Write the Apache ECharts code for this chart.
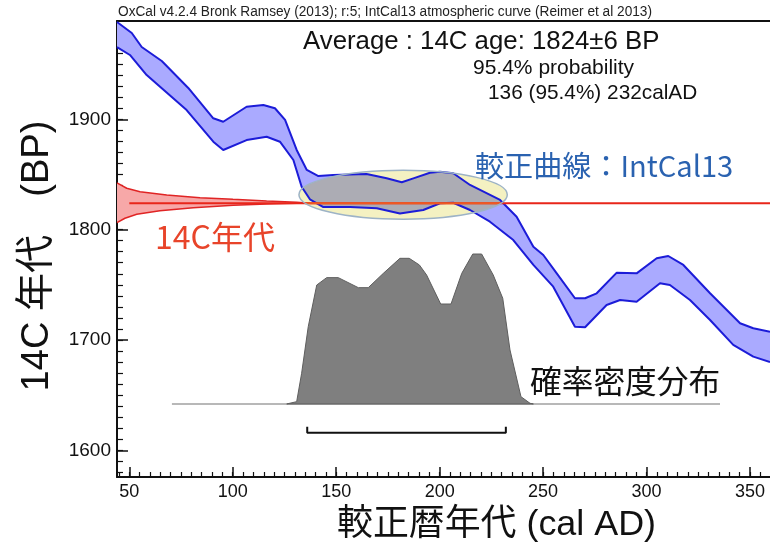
<!DOCTYPE html>
<html><head><meta charset="utf-8">
<script src="https://cdn.jsdelivr.net/npm/echarts@6/dist/echarts.min.js"></script>
<style>html,body{margin:0;padding:0;background:#fff}#c{width:770px;height:549px}</style>
</head><body><div id="c"></div>
<script>
// ---- axes ----
const xRange = [44.06, 359.67];
const yRange = [1575.8, 1989.1];
const xMajorTicks = [50, 100, 150, 200, 250, 300, 350];
const yMajorTicks = [1600, 1700, 1800, 1900];

// ---- IntCal13 calibration band (cal AD, BP) ----
const calUpper = [[44.06,1988.2],[51.2,1978.2],[56.0,1965.5],[65.7,1952.8],[78.5,1928.4],[90.6,1900.9],[95.4,1897.8],[106.7,1911.4],[114.8,1913.0],[120.4,1910.0],[125.3,1899.4],[130.9,1872.2],[135.8,1854.1],[141.4,1848.6],[148.6,1849.5],[164.7,1850.4],[174.4,1846.5],[181.7,1842.9],[187.3,1846.5],[195.3,1851.6],[200.2,1852.5],[206.6,1851.1],[214.7,1840.5],[229.2,1826.9],[237.2,1811.7],[245.3,1784.5],[250.1,1777.0],[256.6,1760.4],[265.4,1737.8],[270.3,1737.8],[275.9,1742.3],[285.6,1761.0],[295.2,1760.4],[304.9,1774.0],[310.5,1776.1],[317.8,1768.0],[330.7,1742.3],[345.2,1715.1],[351.6,1710.6],[359.67,1707.5]];
const calLower = [[44.06,1965.5],[50.3,1958.3],[58.4,1940.1],[65.7,1928.1],[77.7,1908.4],[90.6,1879.7],[95.4,1872.2],[106.7,1881.2],[116.4,1884.2],[122.8,1879.7],[129.3,1863.1],[133.3,1838.9],[137.3,1827.5],[143.8,1820.5],[156.7,1820.5],[169.6,1819.3],[180.8,1814.6],[192.1,1817.8],[200.2,1823.9],[206.6,1824.4],[214.7,1817.8],[224.3,1807.2],[235.6,1790.6],[245.3,1768.0],[254.9,1748.3],[265.4,1712.0],[270.3,1711.5],[280.7,1731.7],[287.2,1736.2],[295.2,1734.7],[306.5,1751.4],[311.3,1749.8],[321.0,1736.2],[330.7,1718.1],[341.9,1695.5],[351.6,1684.9],[359.67,1680.1]];

// ---- 14C age distribution (1824±6 BP) drawn on the y axis ----
const c14Age = 1824;
const c14Upper = [[44.06,1842.3],[48.75,1837.5],[55.2,1834.4],[68.1,1831.4],[84.2,1829.0],[100.1,1827.5],[116.4,1826.0],[130.9,1824.8],[137.3,1824.0]];
const c14Lower = [[44.06,1806.3],[47.9,1810.3],[53.6,1813.9],[64.8,1817.2],[80.9,1819.9],[100.3,1822.1],[116.4,1823.2],[130.9,1823.9],[137.3,1824.0]];
const c14Line = [[50,1824],[359.67,1824]];

// ---- calibrated probability distribution ----
const probCurve = [[126.1,1642.0],[130.9,1644.1],[133.3,1669.8],[136.5,1712.1],[140.6,1749.8],[145.4,1756.5],[151.0,1756.5],[160.7,1747.4],[165.5,1747.4],[172.8,1760.4],[180.8,1774.0],[185.3,1774.0],[190.2,1768.0],[193.7,1758.9],[200.5,1732.6],[205.5,1732.6],[210.7,1760.4],[216.0,1777.9],[220.3,1777.9],[225.9,1758.9],[230.5,1737.8],[234.0,1690.9],[239.3,1648.6],[243.7,1642.6],[245.3,1642.0]];
const probBaseline = [[70.6,1642],[335.5,1642]];
const range95 = [[136,1621.4],[136,1616],[232,1616],[232,1621.4]];
const highlightX = [132, 232.7];
const highlightY = [1809.4, 1853.9];

const xMinorTicks = []; for (let v = 45; v <= 355; v += 5) xMinorTicks.push(v);
const yMinorTicks = []; for (let v = 1580; v <= 1980; v += 10) yMinorTicks.push(v);

const LAT = '"Liberation Sans", Arial, sans-serif';
const CJK = '"Liberation Sans", "Noto Sans CJK JP", sans-serif';
const JPF = '"Noto Sans CJK JP", sans-serif';

const mctx = document.createElement('canvas').getContext('2d');
function fitSize(text, family, width) {
  mctx.font = '100px ' + family;
  return 100 * width / mctx.measureText(text).width;
}

function polySeries(points, style, z) {
  return {
    type: 'custom', coordinateSystem: 'cartesian2d', z: z, silent: true, clip: true,
    data: [points[0]],
    renderItem: (p, api) => ({ type: 'polygon', shape: { points: points.map(pt => api.coord(pt)) }, style: style })
  };
}
function lineSeries(points, color, width, z) {
  return { type: 'line', data: points, symbol: 'none', showSymbol: false, silent: true, z: z, clip: true,
    lineStyle: { color: color, width: width } };
}

// ellipse geometry in pixel space from the highlight's data box
function ellipseOf(api) {
  const a = api.coord([highlightX[0], highlightY[1]]);
  const b = api.coord([highlightX[1], highlightY[0]]);
  return { cx: (a[0] + b[0]) / 2, cy: (a[1] + b[1]) / 2, rx: Math.abs(b[0] - a[0]) / 2, ry: Math.abs(b[1] - a[1]) / 2 };
}
// Sutherland-Hodgman clip of a polygon by a convex polygon
function clipPoly(subject, clip) {
  let area = 0;
  for (let i = 0; i < clip.length; i++) {
    const p = clip[i], q = clip[(i + 1) % clip.length];
    area += p[0] * q[1] - q[0] * p[1];
  }
  const sg = area >= 0 ? 1 : -1;
  let out = subject;
  for (let i = 0; i < clip.length && out.length; i++) {
    const A = clip[i], B = clip[(i + 1) % clip.length];
    const side = P => sg * ((B[0] - A[0]) * (P[1] - A[1]) - (B[1] - A[1]) * (P[0] - A[0]));
    const inp = out; out = [];
    let S = inp[inp.length - 1];
    for (const E of inp) {
      const dS = side(S), dE = side(E);
      if (dE >= 0) {
        if (dS < 0) { const t = dS / (dS - dE); out.push([S[0] + t * (E[0] - S[0]), S[1] + t * (E[1] - S[1])]); }
        out.push(E);
      } else if (dS >= 0) {
        const t = dS / (dS - dE); out.push([S[0] + t * (E[0] - S[0]), S[1] + t * (E[1] - S[1])]);
      }
      S = E;
    }
  }
  return out;
}

const chart = echarts.init(document.getElementById('c'), null, { renderer: 'canvas' });

function txt(text, family, left, right, cy, color) {
  const fs = fitSize(text, family, right - left);
  return { type: 'text', x: left, y: cy, z: 50,
    style: { text: text, font: fs.toFixed(1) + 'px ' + family, fill: color, align: 'left', verticalAlign: 'middle' } };
}

const titleText = 'OxCal v4.2.4 Bronk Ramsey (2013); r:5; IntCal13 atmospheric curve (Reimer et al 2013)';
mctx.font = '14px ' + LAT;
const titleScale = (652 - 118) / mctx.measureText(titleText).width;

const yTitle = '14C 年代　(BP)';
const yTitleSize = fitSize(yTitle, CJK, 392 - 121);

const axisBase = {
  type: 'value', splitLine: { show: false }, axisLine: { show: false },
  axisTick: { show: false }, axisLabel: { show: false }
};
const plain = v => String(Math.round(v));

chart.setOption({
  animation: false,
  backgroundColor: '#ffffff',
  grid: { left: 117, right: 0, top: 21, bottom: 72 },
  xAxis: [
    Object.assign({}, axisBase, {
      min: xRange[0], max: xRange[1], position: 'bottom',
      axisLine: { show: true, onZero: false, lineStyle: { color: '#111', width: 2 } },
      axisTick: { show: true, inside: true, length: 10, customValues: xMajorTicks, lineStyle: { color: '#111', width: 1.5 } },
      axisLabel: { show: true, customValues: xMajorTicks, formatter: plain, margin: 6, fontSize: 18, fontFamily: LAT, color: '#111' }
    }),
    Object.assign({}, axisBase, {
      min: xRange[0], max: xRange[1], position: 'bottom',
      axisTick: { show: true, inside: true, length: 5, customValues: xMinorTicks, lineStyle: { color: '#111', width: 1.2 } }
    }),
    Object.assign({}, axisBase, {
      min: xRange[0], max: xRange[1], position: 'top',
      axisLine: { show: true, onZero: false, lineStyle: { color: '#111', width: 2 } }
    })
  ],
  yAxis: [
    Object.assign({}, axisBase, {
      min: yRange[0], max: yRange[1], position: 'left',
      axisLine: { show: true, onZero: false, lineStyle: { color: '#111', width: 2 } },
      axisTick: { show: true, inside: true, length: 11, customValues: yMajorTicks, lineStyle: { color: '#111', width: 1.5 } },
      axisLabel: { show: true, customValues: yMajorTicks, formatter: plain, margin: 6, fontSize: 19, fontFamily: LAT, color: '#111' }
    }),
    Object.assign({}, axisBase, {
      min: yRange[0], max: yRange[1], position: 'left',
      axisTick: { show: true, inside: true, length: 6, customValues: yMinorTicks, lineStyle: { color: '#111', width: 1.2 } }
    })
  ],
  series: [
    polySeries(calUpper.concat(calLower.slice().reverse()), { fill: '#aaaaff' }, 2),
    {
      // highlight ellipse: pale yellow, band inside it shown grey
      type: 'custom', coordinateSystem: 'cartesian2d', z: 2.5, silent: true, clip: true,
      data: [[highlightX[0], highlightY[0]]],
      renderItem: (p, api) => {
        const e = ellipseOf(api);
        const ring = [];
        for (let i = 0; i < 180; i++) { const t = i / 180 * 2 * Math.PI; ring.push([e.cx + e.rx * Math.cos(t), e.cy + e.ry * Math.sin(t)]); }
        const band = calUpper.concat(calLower.slice().reverse()).map(pt => api.coord(pt));
        const inner = clipPoly(band, ring);
        return { type: 'group', children: [
          { type: 'ellipse', shape: e, style: { fill: '#f4f1c2' } },
          { type: 'polygon', shape: { points: inner }, style: { fill: '#acacb4' } }
        ] };
      }
    },
    lineSeries(calUpper, '#1c1cd8', 2, 3),
    lineSeries(calLower, '#1c1cd8', 2, 3),
    polySeries(c14Upper.concat(c14Lower.slice().reverse()), { fill: '#f7a8a8' }, 4),
    lineSeries(c14Upper, '#e02424', 1.5, 5),
    lineSeries(c14Lower, '#e02424', 1.5, 5),
    lineSeries(c14Line, '#e8261a', 2, 6),
    lineSeries(probBaseline, '#a0a0a0', 1.5, 6),
    polySeries(probCurve, { fill: '#7f7f7f', stroke: '#5e5e5e', lineWidth: 1 }, 7),
    lineSeries(range95, '#111', 2, 7),
    {
      // ellipse outline + the 14C line tinted where it crosses the highlight
      type: 'custom', coordinateSystem: 'cartesian2d', z: 8, silent: true, clip: true,
      data: [[highlightX[0], highlightY[0]]],
      renderItem: (p, api) => {
        const e = ellipseOf(api);
        const ly = api.coord([highlightX[0], c14Age])[1];
        const k = (ly - e.cy) / e.ry;
        const hw = Math.abs(k) < 1 ? e.rx * Math.sqrt(1 - k * k) : 0;
        return { type: 'group', children: [
          { type: 'line', shape: { x1: e.cx - hw, y1: ly, x2: e.cx + hw, y2: ly }, style: { stroke: '#ee5a22', lineWidth: 2 } },
          { type: 'ellipse', shape: e, style: { fill: 'none', stroke: '#9db3c6', lineWidth: 1.5 } }
        ] };
      }
    }
  ],
  graphic: [
    { type: 'text', x: 118, y: 12, scaleX: titleScale, z: 50,
      style: { text: titleText, font: '14px ' + LAT, fill: '#222', align: 'left', verticalAlign: 'middle' } },
    txt('Average : 14C age: 1824±6 BP', LAT, 303, 660, 42, '#111'),
    txt('95.4% probability', LAT, 473, 634, 68, '#111'),
    txt('136 (95.4%) 232calAD', LAT, 488, 697, 93, '#111'),
    txt('較正曲線：IntCal13', JPF, 475, 733, 166, '#2a62b0'),
    txt('14C年代', JPF, 155, 275, 237, '#e8442a'),
    txt('確率密度分布', JPF, 530, 720, 381, '#111'),
    txt('較正暦年代 (cal AD)', CJK, 337, 656, 525, '#111'),
    { type: 'text', x: 37, y: 256, rotation: Math.PI / 2, z: 50,
      style: { text: yTitle, font: yTitleSize.toFixed(1) + 'px ' + CJK, fill: '#111', align: 'center', verticalAlign: 'middle' } }
  ]
});
</script></body></html>
